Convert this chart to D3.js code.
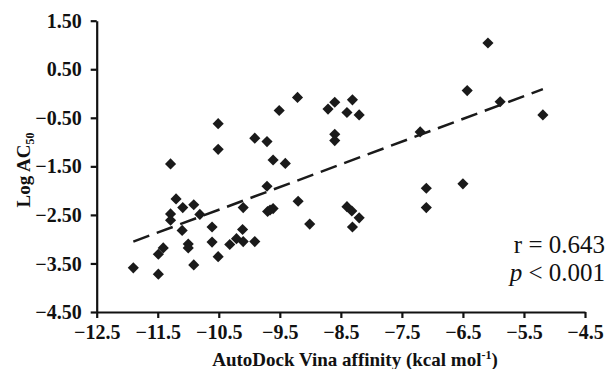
<!DOCTYPE html>
<html><head><meta charset="utf-8">
<script src="https://cdn.jsdelivr.net/npm/d3@7"></script>
<style>body{margin:0;background:#fff}svg{display:block}</style>
</head><body>
<script>
const affinity = [-11.90,-11.49,-11.49,-11.41,-11.29,-11.29,-11.29,-11.20,-11.09,-11.10,-11.00,-11.00,-10.91,-10.91,-10.81,-10.61,-10.61,-10.51,-10.51,-10.51,-10.32,-10.21,-10.10,-10.10,-10.11,-9.91,-9.91,-9.71,-9.71,-9.70,-9.61,-9.66,-9.61,-9.51,-9.41,-9.21,-9.20,-9.01,-8.71,-8.60,-8.60,-8.60,-8.40,-8.31,-8.20,-8.40,-8.32,-8.20,-8.31,-7.20,-7.10,-7.10,-6.50,-6.43,-6.09,-5.89,-5.19];
const logAC50 = [-3.59,-3.72,-3.31,-3.18,-1.45,-2.48,-2.61,-2.17,-2.35,-2.82,-3.10,-3.18,-2.29,-3.53,-2.49,-2.75,-3.06,-3.36,-0.62,-1.15,-3.11,-2.99,-3.05,-2.35,-2.80,-3.05,-0.92,-0.99,-1.91,-2.43,-2.37,-2.40,-1.37,-0.35,-1.44,-0.08,-2.22,-2.69,-0.32,-0.18,-0.84,-0.97,-0.39,-0.13,-0.44,-2.33,-2.42,-2.56,-2.75,-0.79,-1.95,-2.35,-1.86,0.06,1.04,-0.17,-0.44];
const xTicks = [-12.5,-11.5,-10.5,-9.5,-8.5,-7.5,-6.5,-5.5,-4.5];
const yTicks = [1.5,0.5,-0.5,-1.5,-2.5,-3.5,-4.5];
const fitSlope = 0.468, fitIntercept = 2.519;
const statR = "r = 0.643", statP = "< 0.001";

const W=614,H=369;
const svg=d3.select("body").append("svg").attr("width",W).attr("height",H);
const x=d3.scaleLinear().domain([-12.5,-4.5]).range([96.7,585]);
const y=d3.scaleLinear().domain([-4.5,1.5]).range([312,20.7]);
const serif='"Liberation Serif","Times New Roman",serif';

const xa=svg.append("g").attr("transform","translate(0,312)")
  .call(d3.axisBottom(x).tickValues(xTicks).tickFormat(d3.format(".1f")).tickSize(6).tickSizeOuter(0));
const ya=svg.append("g").attr("transform","translate(96.7,0)")
  .call(d3.axisLeft(y).tickValues(yTicks).tickFormat(d3.format(".2f")).tickSize(6).tickSizeOuter(0));
[xa,ya].forEach(g=>{
  g.select(".domain").attr("stroke","#111").attr("stroke-width",2.2);
  g.selectAll(".tick line").attr("stroke","#111").attr("stroke-width",2.2);
  g.selectAll("text").attr("font-family",serif).attr("font-weight","bold").attr("font-size",20).attr("fill","#111");
});
xa.selectAll(".tick text").attr("dy","0.71em").attr("y",13);
ya.selectAll(".tick text").attr("x",-15).attr("dy","0.33em");

// regression line
const xr=d3.extent(affinity);
svg.append("line")
  .attr("x1",x(xr[0])).attr("y1",y(fitSlope*xr[0]+fitIntercept))
  .attr("x2",x(xr[1])).attr("y2",y(fitSlope*xr[1]+fitIntercept))
  .attr("stroke","#1a1a1a").attr("stroke-width",2.5).attr("stroke-dasharray","17,8");

// points
const sym=d3.symbol().type(d3.symbolSquare).size(62);
svg.append("g").selectAll("path").data(affinity.map((a,i)=>[a,logAC50[i]])).join("path")
  .attr("d",sym).attr("fill","#1a1a1a")
  .attr("transform",d=>`translate(${x(d[0])},${y(d[1])}) rotate(45)`);

// axis titles
const xt=svg.append("text").attr("x",355).attr("y",366).attr("text-anchor","middle")
  .attr("font-family",serif).attr("font-weight","bold").attr("font-size",19).attr("fill","#111");
xt.append("tspan").text("AutoDock Vina affinity (kcal mol");
xt.append("tspan").text("-1").attr("font-size",12).attr("dy",-7);
xt.append("tspan").text(")").attr("dy",7);

const yt=svg.append("text").attr("transform","translate(30,170) rotate(-90)").attr("text-anchor","middle")
  .attr("font-family",serif).attr("font-weight","bold").attr("font-size",19).attr("fill","#111");
yt.append("tspan").text("Log AC");
yt.append("tspan").text("50").attr("font-size",12).attr("dy",4);

// stats
svg.append("text").attr("x",605).attr("y",253).attr("text-anchor","end")
  .attr("font-family",serif).attr("font-size",25).attr("fill","#111").text(statR);
const pt=svg.append("text").attr("x",605).attr("y",281).attr("text-anchor","end")
  .attr("font-family",serif).attr("font-size",25).attr("fill","#111");
pt.append("tspan").text("p").attr("font-style","italic");
pt.append("tspan").text(" "+statP);
</script>
</body></html>
